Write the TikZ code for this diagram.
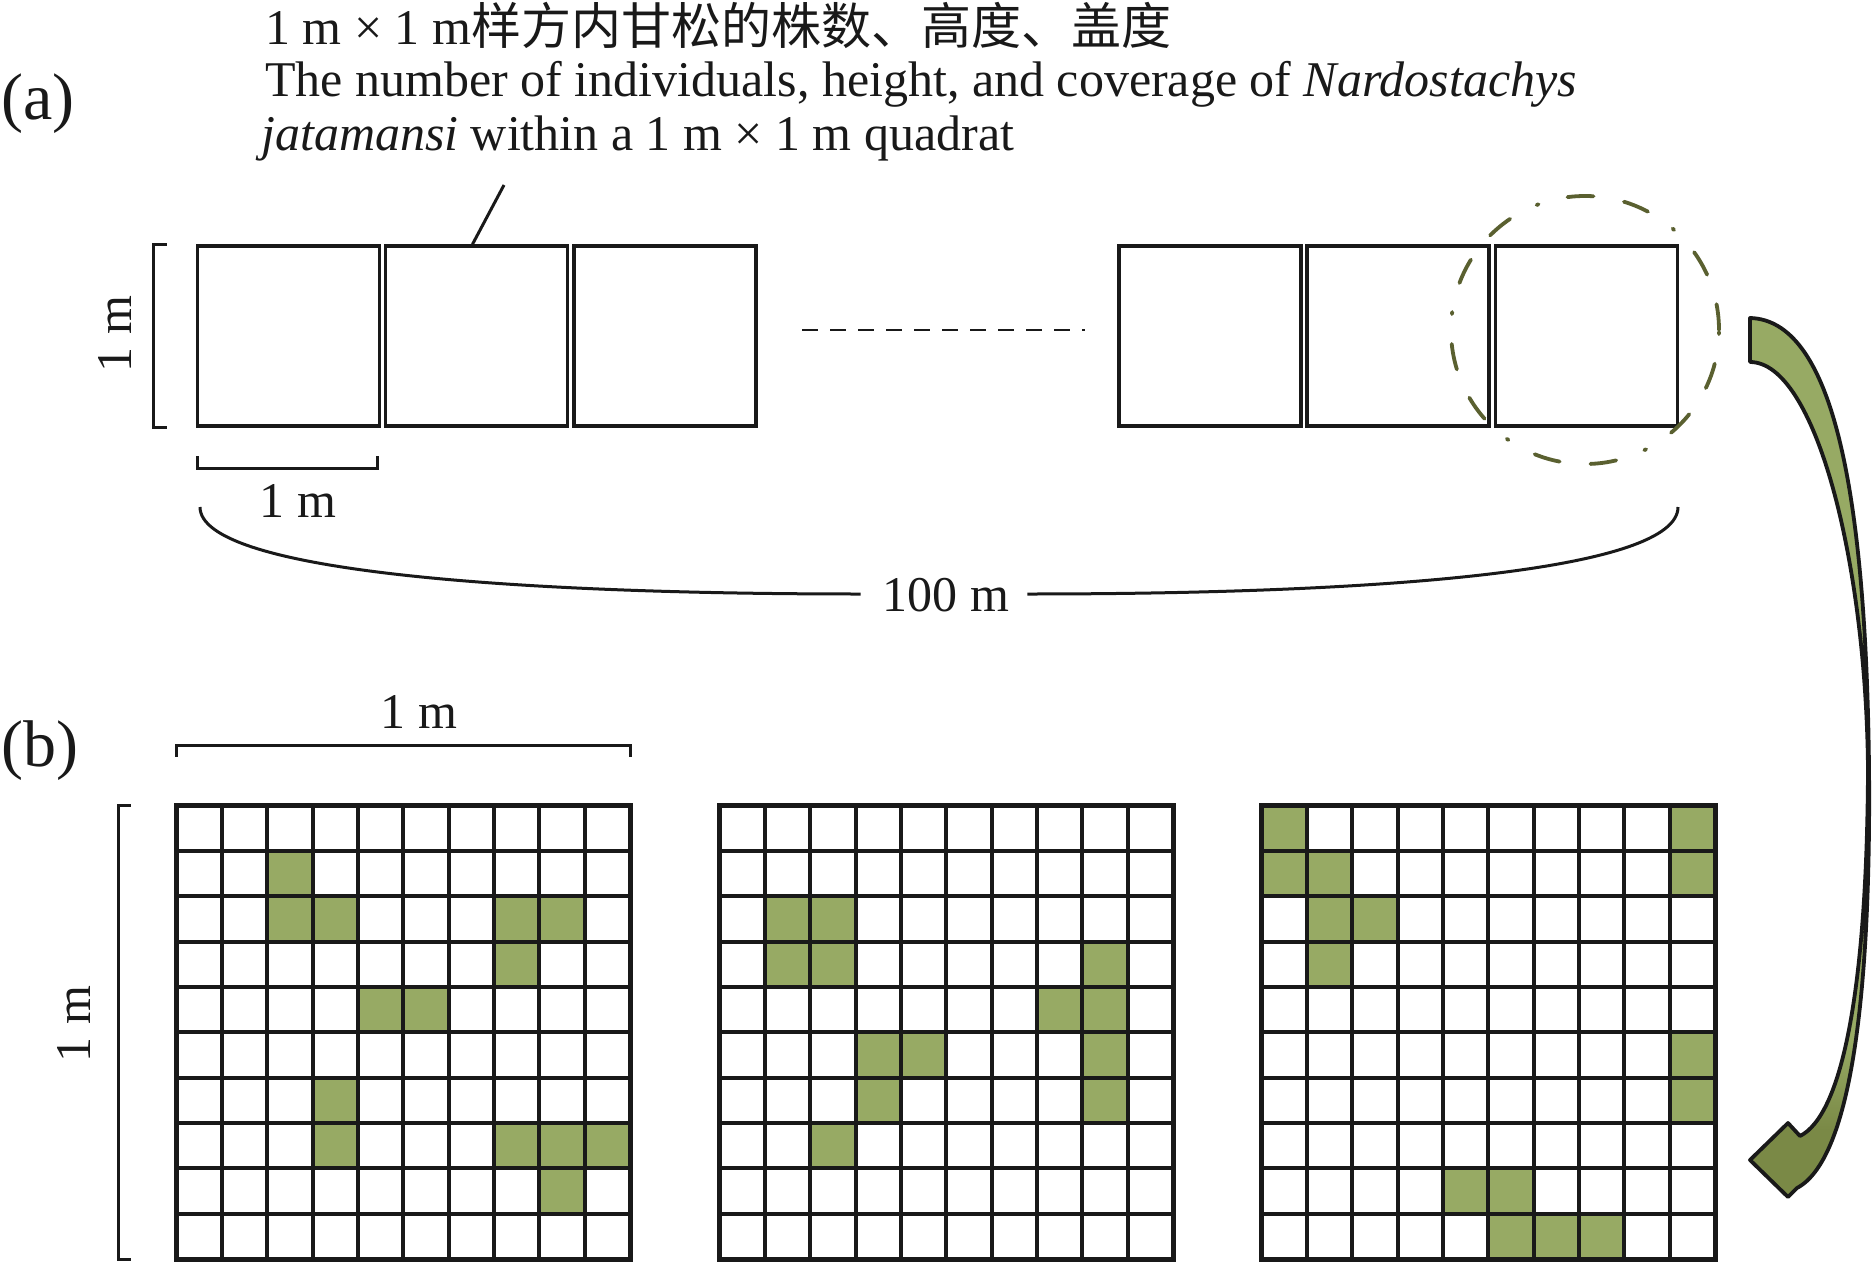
\documentclass[tikz,border=0pt]{standalone}
\usepackage{fontspec}
\setmainfont{Liberation Serif}
\newfontfamily\cjk{Noto Sans CJK SC}
\definecolor{leaf}{RGB}{151,170,100}
\definecolor{leafdark}{RGB}{122,137,70}
\definecolor{olive}{RGB}{90,96,48}
\definecolor{ink}{RGB}{25,25,25}
\newcommand\quadgrid[2]{%
  \begin{scope}[shift={(#1.north west)}]
    \foreach \r/\c in {#2} \fill[leaf] (\c*45.3,\r*45.3) rectangle ++(45.3,45.3);
    \foreach \k in {1,...,9} {
      \draw[gridline] (\k*45.3,0) -- (\k*45.3,453);
      \draw[gridline] (0,\k*45.3) -- (453,\k*45.3);
    }
  \end{scope}
  \draw[gridline, line width=5pt] (#1.north west) rectangle (#1.south east);
}
\def\arrowpath{(1750,318) .. controls (1830,320) and (1866,480) .. (1869,769)
  .. controls (1871,1000) and (1850,1160) .. (1797,1188)
  -- (1788,1197) -- (1750,1160) -- (1788,1123) -- (1800,1136)
  .. controls (1842,1115) and (1867,990) .. (1868,769)
  .. controls (1866,560) and (1815,362) .. (1750,362) -- cycle}
\begin{document}
\begin{tikzpicture}[x=1pt,y=-1pt,
  every node/.style={font=\fontsize{50}{56}\selectfont, inner sep=0pt, text=ink},
  panel/.style={font=\fontsize{66}{70}\selectfont},
  quad/.style={draw=ink, line width=3.5pt, minimum width=182pt, minimum height=180pt},
  gridbox/.style={minimum width=453pt, minimum height=453pt},
  gridline/.style={draw=ink, line width=4pt},
  bracket/.style={draw=ink, line width=3pt},
  brace/.style={draw=ink, line width=3pt},
  ringstyle/.style={circle, draw=olive, line width=3.8pt, line cap=round, minimum size=268pt,
     dash pattern=on 26pt off 31pt on 26pt off 30pt on 2pt off 30pt},
]
\useasboundingbox (0,0) rectangle (1872,1266);

% ---- (a) ----
\node[panel, anchor=base west] (la) at (1,119) {(a)};
\node[anchor=base west] (c1) at (265,44) {1 m × 1 m{\cjk 样方内甘松的株数、高度、盖度}};
\node[anchor=base west] (c2) at (265,96) {The number of individuals, height, and coverage of \textit{Nardostachys}};
\node[anchor=base west] (c3) at (261,150) {\textit{jatamansi} within a 1 m × 1 m quadrat};

\node[quad] (q1) at (288.5,336) {};
\node[quad] (q2) at (476.5,336) {};
\node[quad] (q3) at (665,336) {};
\node[quad] (q4) at (1210,336) {};
\node[quad] (q5) at (1398,336) {};
\node[quad] (q6) at (1586.5,336) {};

\coordinate (lt) at (504,185);
\draw[line width=3pt, ink] ([xshift=-4pt]q2.north) -- (lt);

\coordinate (dl) at (802,330);
\coordinate (dr) at (1085,330);
\draw[ink, line width=2.5pt, dash pattern=on 16pt off 12pt] (dl) -- (dr);

\node[ringstyle] (ring) at (1585,330) {};

% vertical bracket (a)
\draw[bracket] ([xshift=-29pt]q1.north west) -- ([xshift=-42pt]q1.north west) -- ([xshift=-42pt]q1.south west) -- ([xshift=-29pt]q1.south west);
\node[rotate=90, anchor=base] (lva) at (131,334) {1 m};
% horizontal bracket (a)
\coordinate (hb1) at (197,456);
\coordinate (hb2) at (377,456);
\draw[bracket] (hb1) -- ++(0,12) -| (hb2);
\node[anchor=base] (lha) at (298,517) {1 m};

% 100 m brace
\node[anchor=base] (lbig) at (946,611) {100 m};
\coordinate (bl) at (200,507);
\coordinate (br) at (1678,507);
\draw[brace] (bl) .. controls (200,570) and (500,594) .. ([xshift=-22pt]lbig.west |- 0,594);
\draw[brace] ([xshift=18pt]lbig.east |- 0,594) .. controls (1390,594) and (1678,570) .. (br);

% arrow
\begin{scope}
  \clip \arrowpath;
  \fill[leaf] (1740,300) rectangle (1880,1210);
  \shade[top color=leaf, bottom color=leafdark] (1740,1040) rectangle (1880,1130);
  \fill[leafdark] (1740,1130) rectangle (1880,1210);
\end{scope}
\draw[ink, line width=3.8pt, line join=round] \arrowpath;

% ---- (b) ----
\node[panel, anchor=base west] (lb) at (1,766) {(b)};
\node[gridbox] (g1) at (403.5,1032.5) {};
\node[gridbox] (g2) at (946.5,1032.5) {};
\node[gridbox] (g3) at (1488.5,1032.5) {};

\quadgrid{g1}{1/2,2/2,2/3,2/7,2/8,3/7,4/4,4/5,6/3,7/3,7/7,7/8,7/9,8/8}
\quadgrid{g2}{2/1,2/2,3/1,3/2,3/8,4/7,4/8,5/3,5/4,5/8,6/3,6/8,7/2}
\quadgrid{g3}{0/0,0/9,1/0,1/1,1/9,2/1,2/2,3/1,5/9,6/9,8/4,8/5,9/5,9/6,9/7}

\draw[bracket] ([yshift=49pt]g1.north west) -- ([yshift=60pt]g1.north west) -- ([yshift=60pt]g1.north east) -- ([yshift=49pt]g1.north east);
\node[anchor=base] (lhb) at (419,728) {1 m};
\draw[bracket] ([xshift=-46pt]g1.north west) -- ([xshift=-58pt]g1.north west) -- ([xshift=-58pt]g1.south west) -- ([xshift=-46pt]g1.south west);
\node[rotate=90, anchor=base] (lvb) at (90,1024) {1 m};
\end{tikzpicture}
\end{document}
